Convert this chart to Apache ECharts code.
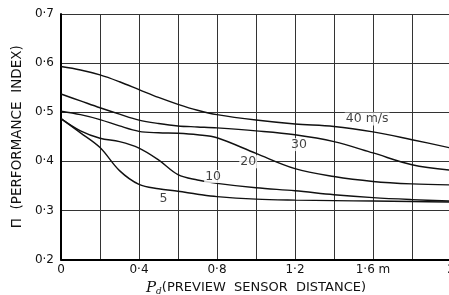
<!DOCTYPE html>
<html><head><meta charset="utf-8">
<script src="https://cdn.jsdelivr.net/npm/echarts@6/dist/echarts.min.js"></script>
<style>html,body{margin:0;padding:0;background:#fff}#c{width:449px;height:295px}</style>
</head><body><div id="c"></div>
<script>
// distances (m)
const xs = [0, 0.1, 0.2, 0.3, 0.4, 0.5, 0.6, 0.7, 0.8, 1.0, 1.2, 1.4, 1.6, 1.8, 2.0];
// performance index per vehicle speed
const v40 = [0.593, 0.586, 0.576, 0.562, 0.546, 0.530, 0.516, 0.504, 0.495, 0.484, 0.476, 0.471, 0.460, 0.444, 0.427];
const v30 = [0.537, 0.523, 0.509, 0.496, 0.484, 0.477, 0.472, 0.470, 0.468, 0.462, 0.454, 0.440, 0.417, 0.393, 0.382];
const v20 = [0.502, 0.495, 0.485, 0.472, 0.461, 0.458, 0.457, 0.454, 0.448, 0.416, 0.385, 0.369, 0.359, 0.354, 0.352];
const v10 = [0.487, 0.462, 0.447, 0.440, 0.427, 0.403, 0.373, 0.362, 0.355, 0.346, 0.340, 0.332, 0.326, 0.322, 0.319];
const v5  = [0.487, 0.458, 0.428, 0.381, 0.353, 0.344, 0.339, 0.333, 0.328, 0.323, 0.321, 0.320, 0.319, 0.318, 0.317];
// curve labels
const labelTexts = ['40 m/s', '30', '20', '10', '5'];
const labelX = [1.57, 1.22, 0.96, 0.78, 0.525];
const labelY = [0.486, 0.434, 0.399, 0.369, 0.323];
// tick labels
const xTickLabels = {'0': '0', '0.4': '0·4', '0.8': '0·8', '1.2': '1·2', '1.6': '1·6 m', '2': '2'};
const yTickLabels = {'0.2': '0·2', '0.3': '0·3', '0.4': '0·4', '0.5': '0·5', '0.6': '0·6', '0.7': '0·7'};

const FONT = 'DejaVu Sans';
const pairs = arr => xs.map((x, i) => [x, arr[i]]);
const lineSeries = arr => ({
  type: 'line', data: pairs(arr), smooth: 0.35, symbol: 'none',
  lineStyle: {color: '#111', width: 1.4}, z: 3
});

const chart = echarts.init(document.getElementById('c'), null, {renderer: 'canvas'});
chart.setOption({
  backgroundColor: '#fff',
  animation: false,
  grid: {left: 61, top: 14, right: -2, bottom: 35.5, containLabel: false, outerBoundsMode: 'none'},
  xAxis: {
    type: 'value', min: 0, max: 2, interval: 0.2,
    axisLine: {show: true, lineStyle: {color: '#000', width: 2}},
    axisTick: {show: false},
    splitLine: {show: true, lineStyle: {color: '#333', width: 1}},
    axisLabel: {
      color: '#111', fontFamily: FONT, fontSize: 12, margin: 4,
      formatter: v => xTickLabels[String(Math.round(v * 10) / 10)] || ''
    },
    name: '{p|P}{d|d}{t|(PREVIEW  SENSOR  DISTANCE)}',
    nameLocation: 'middle', nameGap: 18,
    nameTextStyle: {
      rich: {
        p: {fontFamily: 'DejaVu Serif', fontStyle: 'italic', fontSize: 15, color: '#111'},
        d: {fontFamily: 'DejaVu Serif', fontStyle: 'italic', fontSize: 9, color: '#111', padding: [8, 0, 0, 0]},
        t: {fontFamily: FONT, fontSize: 13, color: '#111'}
      }
    }
  },
  yAxis: {
    type: 'value', min: 0.2, max: 0.7, interval: 0.1,
    axisLine: {show: true, lineStyle: {color: '#000', width: 2}},
    axisTick: {show: false},
    splitLine: {show: true, lineStyle: {color: '#333', width: 1}},
    axisLabel: {
      color: '#111', fontFamily: FONT, fontSize: 12, margin: 7,
      formatter: v => yTickLabels[String(Math.round(v * 10) / 10)] || ''
    },
    name: 'Π  (PERFORMANCE  INDEX)',
    nameLocation: 'middle', nameGap: 32, nameRotate: 90,
    nameTextStyle: {fontFamily: FONT, fontSize: 13.5, color: '#111'}
  },
  series: [
    lineSeries(v40), lineSeries(v30), lineSeries(v20), lineSeries(v10), lineSeries(v5),
    {
      type: 'scatter', symbolSize: 0, z: 5,
      data: labelTexts.map((t, i) => ({name: t, value: [labelX[i], labelY[i]]})),
      label: {
        show: true, position: 'inside', formatter: p => p.name,
        fontFamily: FONT, fontSize: 12.5, color: '#111',
        backgroundColor: '#fff', padding: [0, 1]
      }
    }
  ]
});
</script></body></html>
